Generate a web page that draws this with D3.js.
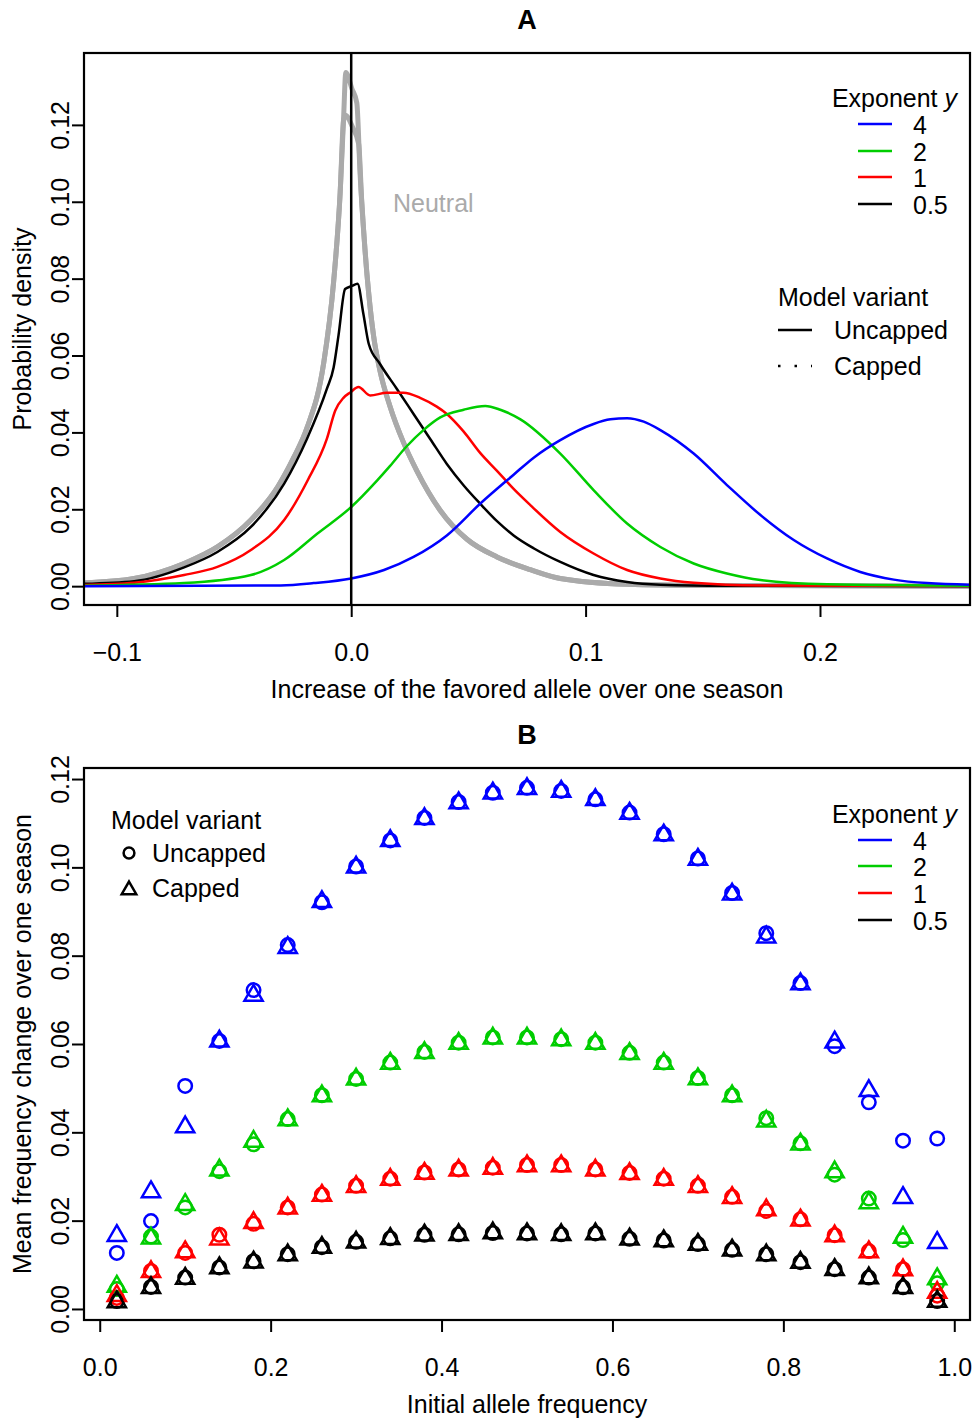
<!DOCTYPE html>
<html>
<head>
<meta charset="utf-8">
<script src="https://cdn.jsdelivr.net/npm/d3@7"></script>
<style>
  body { margin: 0; background: #fff; }
  text { font-family: "Liberation Sans", Arial, Helvetica, sans-serif; }
</style>
</head>
<body>
<div id="chart"></div>
<script>
(function figure() {

    // ---- data ------------------------------------------------------------
    const exponents = ["4", "2", "1", "0.5"];
    const colors = ["#0000ff", "#00cd00", "#ff0000", "#000000"];

    // Panel A: density of the one-season increase, [increase, density]
    const neutralUncapped = [[-0.115,0.0008],[-0.0926,0.002],[-0.0713,0.0059],[-0.0571,0.0102],[-0.0428,0.0172],[-0.0314,0.0258],[-0.0245,0.0335],[-0.0189,0.0411],[-0.0118,0.0578],[-0.0075,0.0792],[-0.0047,0.1025],[-0.0033,0.121],[-0.0023,0.1336],[0.0003,0.1294],[0.0024,0.1257],[0.0038,0.1071],[0.0052,0.0932],[0.0066,0.082],[0.0095,0.0653],[0.0123,0.056],[0.0166,0.0467],[0.0223,0.0374],[0.028,0.03],[0.038,0.0197],[0.0494,0.0122],[0.0622,0.0076],[0.0764,0.0043],[0.0892,0.002],[0.1177,0.0005],[0.15,0.0002],[0.27,0]];
    const neutralCapped = [[-0.115,0.0008],[-0.0926,0.002],[-0.0713,0.0059],[-0.0571,0.0102],[-0.0428,0.0172],[-0.0314,0.0258],[-0.0245,0.0335],[-0.0189,0.0411],[-0.0118,0.0578],[-0.0075,0.0792],[-0.0047,0.1025],[-0.0033,0.121],[-0.0025,0.1225],[0.0005,0.1195],[0.0032,0.115],[0.0045,0.1],[0.0058,0.088],[0.0075,0.076],[0.0095,0.0653],[0.0123,0.056],[0.0166,0.0467],[0.0223,0.0374],[0.028,0.03],[0.038,0.0197],[0.0494,0.0122],[0.0622,0.0076],[0.0764,0.0043],[0.0892,0.002],[0.1177,0.0005],[0.15,0.0002],[0.27,0]];
    const dens05 = [[-0.115,0.0006],[-0.0926,0.0013],[-0.0713,0.0049],[-0.0571,0.0089],[-0.0428,0.0154],[-0.0286,0.0267],[-0.0189,0.0383],[-0.0104,0.0513],[-0.0075,0.0569],[-0.0054,0.0653],[-0.0026,0.0773],[0.0003,0.0781],[0.0027,0.0787],[0.0052,0.0708],[0.0075,0.063],[0.0123,0.0578],[0.0195,0.0513],[0.0266,0.0448],[0.0337,0.0383],[0.0408,0.0318],[0.048,0.0262],[0.0551,0.0214],[0.0622,0.0169],[0.0693,0.0132],[0.078,0.0098],[0.0892,0.0063],[0.1034,0.0029],[0.1177,0.0011],[0.1319,0.0004],[0.16,0.0001],[0.27,0]];
    const dens1 = [[-0.115,0.0003],[-0.0926,0.0009],[-0.0713,0.0029],[-0.0571,0.005],[-0.0428,0.0094],[-0.0286,0.0172],[-0.0186,0.0275],[-0.0104,0.0383],[-0.0068,0.0457],[-0.0033,0.049],[-0.0004,0.0504],[0.0031,0.0518],[0.0081,0.0496],[0.0152,0.0503],[0.0223,0.0503],[0.0294,0.049],[0.0365,0.0467],[0.0408,0.0448],[0.048,0.0402],[0.0551,0.0346],[0.0622,0.03],[0.0693,0.0253],[0.0764,0.0211],[0.0892,0.0141],[0.1034,0.0085],[0.1177,0.0042],[0.1319,0.002],[0.1461,0.0009],[0.175,0.0002],[0.27,0]];
    const dens2 = [[-0.115,0.0001],[-0.0713,0.0008],[-0.0428,0.0029],[-0.0286,0.0068],[-0.0144,0.0137],[0.0,0.0206],[0.0112,0.0276],[0.0166,0.0313],[0.0237,0.0364],[0.0308,0.0406],[0.038,0.0439],[0.048,0.0459],[0.0572,0.0469],[0.0636,0.0459],[0.0722,0.0434],[0.0892,0.0345],[0.1034,0.025],[0.1177,0.0163],[0.1319,0.0102],[0.1461,0.0059],[0.1603,0.0033],[0.1746,0.0016],[0.203,0.0005],[0.27,0.0001]];
    const dens4 = [[-0.115,0],[-0.03,0.0002],[-0.016,0.0008],[0,0.002],[0.014,0.0042],[0.0266,0.0076],[0.0408,0.0132],[0.0551,0.0215],[0.0693,0.029],[0.078,0.0335],[0.0892,0.038],[0.1034,0.0422],[0.1106,0.0434],[0.1177,0.0437],[0.1248,0.0428],[0.1319,0.0406],[0.1461,0.0345],[0.1603,0.0263],[0.1746,0.0185],[0.1888,0.012],[0.203,0.0072],[0.2172,0.0037],[0.2315,0.0017],[0.2457,0.0008],[0.27,0.0003]];

    // Panel B: mean frequency change by initial allele frequency
    const startFreq = [0.02,0.06,0.10,0.14,0.18,0.22,0.26,0.30,0.34,0.38,0.42,0.46,0.50,0.54,0.58,0.62,0.66,0.70,0.74,0.78,0.82,0.86,0.90,0.94,0.98];
    const uncapped4 = [0.0127,0.0199,0.0505,0.0607,0.0722,0.0824,0.0921,0.1002,0.1061,0.1112,0.1148,0.1169,0.1180,0.1173,0.1154,0.1124,0.1075,0.1020,0.0942,0.0851,0.0738,0.0595,0.0468,0.0381,0.0386];
    const capped4   = [0.0166,0.0265,0.0412,0.0606,0.0710,0.0818,0.0922,0.1000,0.1060,0.1110,0.1146,0.1168,0.1178,0.1172,0.1153,0.1122,0.1073,0.1018,0.0939,0.0842,0.0736,0.0604,0.0494,0.0252,0.0150];
    const uncapped2 = [0.0045,0.0164,0.0230,0.0312,0.0373,0.0430,0.0484,0.0521,0.0558,0.0582,0.0603,0.0615,0.0615,0.0611,0.0603,0.0580,0.0558,0.0523,0.0484,0.0432,0.0375,0.0304,0.0250,0.0156,0.0058];
    const capped2   = [0.0051,0.0160,0.0236,0.0314,0.0379,0.0428,0.0482,0.0520,0.0556,0.0580,0.0601,0.0613,0.0613,0.0609,0.0601,0.0578,0.0556,0.0521,0.0482,0.0425,0.0373,0.0310,0.0240,0.0162,0.0068];
    const uncapped1 = [0.0025,0.0086,0.0127,0.0168,0.0193,0.0230,0.0259,0.0279,0.0295,0.0309,0.0316,0.0320,0.0326,0.0326,0.0316,0.0308,0.0295,0.0279,0.0254,0.0222,0.0203,0.0167,0.0131,0.0090,0.0030];
    const capped1   = [0.0030,0.0084,0.0129,0.0158,0.0195,0.0228,0.0257,0.0277,0.0293,0.0307,0.0314,0.0318,0.0324,0.0324,0.0314,0.0306,0.0293,0.0277,0.0252,0.0224,0.0201,0.0165,0.0129,0.0088,0.0037];
    const uncapped05 = [0.0018,0.0050,0.0071,0.0094,0.0108,0.0124,0.0140,0.0152,0.0160,0.0168,0.0169,0.0172,0.0171,0.0169,0.0171,0.0159,0.0155,0.0147,0.0134,0.0124,0.0106,0.0090,0.0071,0.0049,0.0018];
    const capped05   = [0.0016,0.0048,0.0069,0.0093,0.0106,0.0122,0.0139,0.0151,0.0159,0.0167,0.0168,0.0172,0.0170,0.0168,0.0170,0.0158,0.0154,0.0146,0.0133,0.0122,0.0105,0.0089,0.0070,0.0048,0.0017];

    const ticksA_x = [-0.1, 0, 0.1, 0.2];
    const ticksA_y = [0, 0.02, 0.04, 0.06, 0.08, 0.10, 0.12];
    const ticksB_x = [0, 0.2, 0.4, 0.6, 0.8, 1.0];
    const ticksB_y = [0, 0.02, 0.04, 0.06, 0.08, 0.10, 0.12];

    // ---- layout ----------------------------------------------------------
    const WIDTH = 974;
    const HEIGHT = 1419;
    const FS = 25;
    const LEFT = 84, RIGHT = 970;

    const svg = d3.select("#chart").append("svg")
        .attr("width", WIDTH)
        .attr("height", HEIGHT)
        .style("background", "#fff");

    panelA();
    panelB();

    function addText(g, x, y, str, opts) {
        opts = opts || {};
        return g.append("text")
            .attr("x", x).attr("y", y)
            .attr("dominant-baseline", "central")
            .attr("text-anchor", opts.anchor || "start")
            .attr("fill", opts.fill || "#000")
            .style("font-size", (opts.size || FS) + "px")
            .style("font-weight", opts.bold ? "bold" : null)
            .text(str);
    }

    function drawAxes(top, bottom, x, y, xt, yt, xfmt, xlab, ylab, title) {
        const g = svg.append("g");
        const ax = g.append("g").attr("transform", `translate(0,${bottom})`)
            .call(d3.axisBottom(x).tickValues(xt).tickFormat(xfmt).tickSizeInner(12).tickSizeOuter(0));
        ax.select(".domain").remove();
        ax.selectAll(".tick line").attr("stroke-width", 2);
        ax.selectAll(".tick text").attr("y", 47).attr("dy", null)
            .attr("dominant-baseline", "central").style("font-size", FS + "px").attr("fill", "#000");

        const ay = g.append("g").attr("transform", `translate(${LEFT},0)`)
            .call(d3.axisLeft(y).tickValues(yt).tickFormat(d3.format(".2f")).tickSizeInner(12).tickSizeOuter(0));
        ay.select(".domain").remove();
        ay.selectAll(".tick line").attr("stroke-width", 2);
        ay.selectAll(".tick text").attr("x", 0).attr("dy", null)
            .attr("transform", "translate(-24,0) rotate(-90)")
            .attr("text-anchor", "middle").attr("dominant-baseline", "central")
            .style("font-size", FS + "px").attr("fill", "#000");

        g.append("rect")
            .attr("x", LEFT).attr("y", top)
            .attr("width", RIGHT - LEFT).attr("height", bottom - top)
            .attr("fill", "none").attr("stroke", "#000").attr("stroke-width", 2.2);

        addText(g, (LEFT + RIGHT) / 2, bottom + 84, xlab, { anchor: "middle" });
        g.append("text")
            .attr("transform", `translate(22,${(top + bottom) / 2}) rotate(-90)`)
            .attr("text-anchor", "middle").attr("dominant-baseline", "central")
            .style("font-size", FS + "px").text(ylab);
        addText(g, (LEFT + RIGHT) / 2, top - 33, title, { anchor: "middle", bold: true, size: 27 });
    }

    function exponentLegend(g, yTitle, yRows) {
        const t = g.append("text")
            .attr("x", 957).attr("y", yTitle)
            .attr("text-anchor", "end").attr("dominant-baseline", "central")
            .style("font-size", FS + "px");
        t.append("tspan").text("Exponent ");
        t.append("tspan").style("font-style", "italic").text("y");
        exponents.forEach((e, i) => {
            g.append("line")
                .attr("x1", 858).attr("x2", 892)
                .attr("y1", yRows[i]).attr("y2", yRows[i])
                .attr("stroke", colors[i]).attr("stroke-width", 2.5);
            addText(g, 913, yRows[i] + 1, e);
        });
    }

    function triPath(cx, cy, R) {
        const r = 1.5551 * R, yc = 0.7776 * R, xc = 1.3468 * R;
        return `M${cx},${cy - r}L${cx + xc},${cy + yc}L${cx - xc},${cy + yc}Z`;
    }

    // Panel A: densities
    function panelA() {
        const top = 53, bottom = 605;
        const x = d3.scaleLinear().domain([-0.114, 0.264]).range([LEFT, RIGHT]);
        const y = d3.scaleLinear().domain([-0.0049, 0.1387]).range([bottom, top]);

        svg.append("clipPath").attr("id", "clipA")
            .append("rect").attr("x", LEFT).attr("y", top)
            .attr("width", RIGHT - LEFT).attr("height", bottom - top);

        const g = svg.append("g").attr("clip-path", "url(#clipA)");
        const line = d3.line().x(d => x(d[0])).y(d => y(d[1])).curve(d3.curveMonotoneX);

        [neutralUncapped, neutralCapped].forEach(d => {
            g.append("path").datum(d).attr("d", line)
                .attr("fill", "none").attr("stroke", "#aaaaaa")
                .attr("stroke-width", 5).attr("stroke-linejoin", "round");
        });

        const curves = [dens4, dens2, dens1, dens05];
        [3, 2, 1, 0].forEach(i => {
            g.append("path").datum(curves[i]).attr("d", line)
                .attr("fill", "none").attr("stroke", colors[i])
                .attr("stroke-width", 2.5).attr("stroke-linejoin", "round");
        });

        g.append("line")
            .attr("x1", x(0)).attr("x2", x(0))
            .attr("y1", top).attr("y2", bottom)
            .attr("stroke", "#000").attr("stroke-width", 2.5);

        drawAxes(top, bottom, x, y, ticksA_x, ticksA_y, d3.format(".1f"),
            "Increase of the favored allele over one season", "Probability density", "A");

        const leg = svg.append("g");
        addText(leg, 393, 203, "Neutral", { fill: "#aaaaaa" });
        exponentLegend(leg, 98, [124, 151, 177, 204]);
        addText(leg, 778, 297, "Model variant");
        leg.append("line").attr("x1", 778).attr("x2", 812).attr("y1", 330).attr("y2", 330)
            .attr("stroke", "#000").attr("stroke-width", 2.5);
        addText(leg, 834, 330, "Uncapped");
        leg.append("line").attr("x1", 778).attr("x2", 812).attr("y1", 366).attr("y2", 366)
            .attr("stroke", "#000").attr("stroke-width", 2.5)
            .attr("stroke-dasharray", "2.5 14");
        addText(leg, 834, 366, "Capped");
    }

    // Panel B: mean change vs. initial frequency
    function panelB() {
        const top = 768, bottom = 1320;
        const x = d3.scaleLinear().domain([-0.0184, 1.0184]).range([LEFT, RIGHT]);
        const y = d3.scaleLinear().domain([-0.0025, 0.1225]).range([bottom, top]);
        const R = 6.75;

        drawAxes(top, bottom, x, y, ticksB_x, ticksB_y, d3.format(".1f"),
            "Initial allele frequency", "Mean frequency change over one season", "B");

        const g = svg.append("g");
        const uncapped = [uncapped4, uncapped2, uncapped1, uncapped05];
        const capped = [capped4, capped2, capped1, capped05];

        uncapped.forEach((vals, i) => {
            g.selectAll(null).data(vals).enter().append("circle")
                .attr("cx", (d, j) => x(startFreq[j]))
                .attr("cy", d => y(d))
                .attr("r", R)
                .attr("fill", "none").attr("stroke", colors[i]).attr("stroke-width", 2.5);
        });
        capped.forEach((vals, i) => {
            g.selectAll(null).data(vals).enter().append("path")
                .attr("d", (d, j) => triPath(x(startFreq[j]), y(d), R))
                .attr("fill", "none").attr("stroke", colors[i]).attr("stroke-width", 2.5)
                .attr("stroke-linejoin", "miter");
        });

        const leg = svg.append("g");
        addText(leg, 111, 820, "Model variant");
        leg.append("circle").attr("cx", 129).attr("cy", 853).attr("r", 5.4)
            .attr("fill", "none").attr("stroke", "#000").attr("stroke-width", 2.5);
        addText(leg, 152, 853, "Uncapped");
        leg.append("path").attr("d", triPath(129, 890, 5.4))
            .attr("fill", "none").attr("stroke", "#000").attr("stroke-width", 2.5);
        addText(leg, 152, 888, "Capped");
        exponentLegend(leg, 814, [840, 866, 893, 920]);
    }

})();
</script>
</body>
</html>
